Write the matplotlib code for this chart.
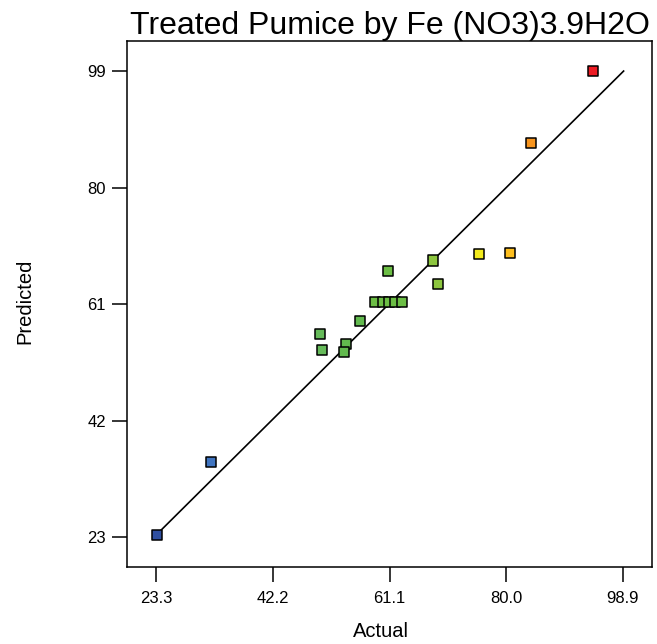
import matplotlib
matplotlib.use("Agg")
import matplotlib.pyplot as plt

actual = [23.5, 32.25, 49.8, 50.2, 54.1, 53.7, 56.3, 60.9, 58.8, 60.0, 61.0, 62.0, 63.2, 68.2, 68.9, 75.6, 80.6, 84.0, 94.0]
predicted = [23.4, 35.3, 56.1, 53.5, 54.5, 53.1, 58.3, 66.4, 61.3, 61.3, 61.3, 61.3, 61.3, 68.1, 64.3, 69.1, 69.4, 87.3, 99.05]
colors = ["#2F4FA0", "#3F74C0", "#66BB5A", "#66BB5A", "#62BA4E", "#62BA4E", "#62BA4E",
          "#6CBE45", "#6CBE45", "#6CBE45", "#6CBE45", "#6CBE45", "#6CBE45",
          "#8DC63F", "#8DC63F", "#F2EA1C", "#FDBE1E", "#F7941D", "#ED1C24"]
x_ticks = [23.3, 42.2, 61.1, 80.0, 98.9]
x_labels = ["23.3", "42.2", "61.1", "80.0", "98.9"]
y_ticks = [23, 42, 61, 80, 99]
y_labels = ["23", "42", "61", "80", "99"]
line_x = [23.3, 99.0]
line_y = [23.3, 99.0]

plt.rcParams['font.family'] = ['Liberation Sans', 'DejaVu Sans']

fig = plt.figure(figsize=(6.57, 6.44), dpi=100)
ax = fig.add_axes([0.1929, 0.12, 0.7999, 0.8163])

ax.plot(line_x, line_y, color="black", linewidth=1.2, zorder=2)
ax.scatter(actual, predicted, marker="s", s=52, c=colors, edgecolors="black",
           linewidths=1.1, zorder=3)

ax.set_xlim(18.56, 103.64)
ax.set_ylim(18.15, 103.9)
ax.set_xticks(x_ticks)
ax.set_xticklabels(x_labels)
ax.set_yticks(y_ticks)
ax.set_yticklabels(y_labels)
ax.tick_params(direction="out", length=11, width=1.1, labelsize=12, colors="black")
ax.tick_params(axis="x", pad=6.5)
ax.tick_params(axis="y", pad=4)
for s in ax.spines.values():
    s.set_linewidth(1.1)

ax.set_xlabel("Actual", fontsize=14.5)
ax.xaxis.set_label_coords(0.483, -0.105)
ax.set_ylabel("Predicted", fontsize=14.5)
ax.yaxis.set_label_coords(-0.175, 0.505)
ax.set_title("Treated Pumice by Fe (NO3)3.9H2O", fontsize=23, pad=1.5)

fig.savefig("out.png", dpi=100)
